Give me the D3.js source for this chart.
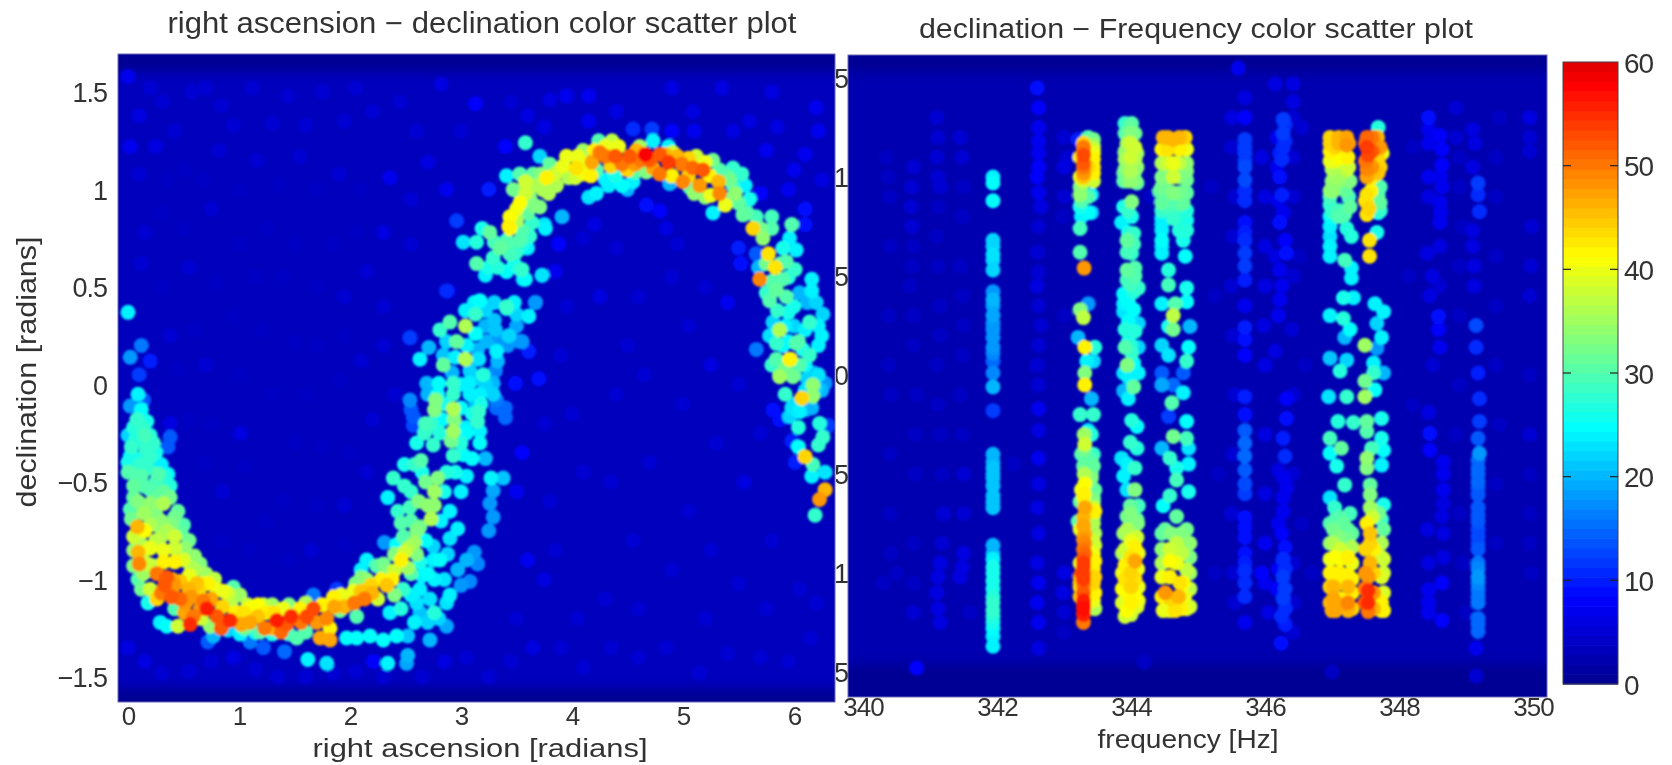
<!DOCTYPE html>
<html><head><meta charset="utf-8">
<script src="https://cdn.jsdelivr.net/npm/d3@7/dist/d3.min.js"></script>
<style>html,body{margin:0;padding:0;background:#fff;overflow:hidden}svg{display:block}text{font-family:"Liberation Sans",Arial,sans-serif;fill:#333}</style>
</head><body><svg id="c" width="1672" height="765"></svg>
<script>
const titleLeft="right ascension − declination color scatter plot";
const titleRight="declination − Frequency color scatter plot";
const xLabelLeft="right ascension [radians]";
const yLabelLeft="declination [radians]";
const xLabelRight="frequency [Hz]";
const raTicks=[0,1,2,3,4,5,6];
const decTicks=[1.5,1,0.5,0,-0.5,-1,-1.5];
const freqTicks=[340,342,344,346,348,350];
const barTicks=[0,10,20,30,40,50,60];
const jetStops=["#00008f","#0000ff","#00ffff","#ffff00","#ff0000","#800000"];
const jetDomain=[0,8.25,24.75,41.25,57.75,66];

// ra, dec, snr
const arcLow=[[.09,-.05,24],[.02,-.11,18],[.12,-.13,25],[.08,-.18,28],[.17,-.19,26],[.15,-.26,29],[0,-.26,22],[.23,-.30,28],[.38,-.27,14],[.36,-.32,14],[.03,-.32,28],[.02,-.37,25],[.20,-.37,28],[.11,-.41,28],[.30,-.41,24],[0,-.45,30],[.12,-.47,30],[.27,-.46,30],[.36,-.46,25],[.05,-.52,31],[.20,-.54,30],[.38,-.52,27],[.32,-.55,31],[.09,-.60,33],[.20,-.61,34],[.32,-.61,36],[.45,-.65,31],[.02,-.64,30],[.084,-.73,46],[.15,-.75,41],[.09,-.86,46],[.10,-.92,49],[.05,-.78,38],[.26,-.72,33],[.39,-.72,33],[.48,-.76,31],[.30,-.78,36],[.42,-.78,38],[.20,-.84,40],[.32,-.85,40],[.51,-.84,34],[.60,-.88,34],[.09,-1.0,30],[.23,-.93,34],[.32,-.91,42],[.42,-.91,42],[.65,-.92,33],[.26,-.97,50],[.35,-.99,52],[.33,-1.03,52],[.47,-1.01,45],[.62,-1.02,45],[.72,-1.02,42],[.78,-.998,37],[.86,-1.06,40],[.26,-1.10,44],[.39,-1.09,52],[.47,-1.10,51],[.57,-1.09,48],[.68,-1.11,50],[.29,-1.22,24],[.35,-1.24,25],[.45,-1.24,38],[.51,-1.17,47],[.59,-1.19,50],[.56,-1.23,55],[.71,-1.15,56],[.80,-1.19,52],[.84,-1.25,52],[.92,-1.21,55],[.74,-1.24,34],[.77,-1.29,20],[.72,-1.32,14],[1.01,-1.08,35],[.93,-1.12,36],[1.10,-1.15,41],[1.17,-1.13,41],[1.02,-1.23,47],[1.10,-1.22,47],[1.23,-1.25,50],[1.34,-1.21,56],[1.38,-1.27,51],[1.47,-1.19,55],[1.61,-1.19,53],[1.67,-1.15,53],[1.79,-1.20,49],[1.86,-1.14,47],[1.31,-1.17,43],[1.55,-1.15,42],[1.19,-1.27,30],[1.01,-1.28,24],[1.10,-1.32,16],[1.22,-1.35,14],[1.41,-1.37,15],[1.52,-1.30,30],[1.62,-1.41,24],[1.79,-1.43,23],[1.73,-1.30,47],[1.82,-1.31,47],[1.82,-1.25,42],[1.67,-1.08,16],[1.88,-1.05,12],[1.97,-1.10,38],[2.04,-1.12,50],[2.13,-1.10,50],[2.03,-1.06,40],[2.19,-1.03,44],[2.33,-1.03,45],[2.10,-.99,33],[2.24,-.93,30],[2.15,-.90,24],[2.33,-.955,33],[2.40,-.955,38],[2.46,-.90,42],[2.49,-.86,38],[2.58,-.81,35],[2.31,-.81,18],[2.48,-1.05,28],[2.55,-.97,30],[2.63,-.91,26],[2.70,-.97,25],[2.81,-.90,25],[2.97,-.95,20],[3.05,-.90,20],[3.12,-.86,18],[3.15,-.92,17],[3.00,-1.03,18],[3.08,-1.01,17],[2.75,-.83,22],[2.90,-.79,23],[2.97,-.74,24],[2.76,-1.0,24],[2.63,-1.05,24],[2.87,-1.12,23],[2.76,-1.17,27],[2.90,-1.08,24],[2.63,-1.17,21],[2.58,-1.22,24],[2.70,-1.22,22],[2.87,-1.24,19],[2.72,-1.31,20],[2.52,-1.29,21],[2.36,-1.17,24],[2.46,-1.15,27],[1.97,-1.30,25],[2.06,-1.30,25],[2.18,-1.29,25],[2.30,-1.31,25],[2.42,-1.29,25],[2.21,-1.42,8],[2.34,-1.43,24],[2.52,-1.39,20],[2.51,-1.43,19],[1.70,-1.22,48],[1.43,-1.23,52],[1.56,-1.22,50],[1.04,-1.17,43],[1.17,-1.19,45],[.90,-1.13,37],[1.91,-1.16,32],[2.06,-1.19,30],[2.25,-1.10,38],[1.24,-1.17,42],[1.40,-1.15,40],[1.92,-1.08,40],[2.40,-1.08,33],[2.52,-.94,35],[2.60,-.87,33],[.55,-.98,40],[.68,-1.02,40],[.40,-1.0,47],[.14,-.97,35],[.16,-.66,34],[.30,-.70,34],[.12,-.82,36],[.57,-.94,36],[1.0,-1.17,38],[1.30,-1.25,46]];
const arcLowDense=[[.05,-.22,27],[.13,-.22,28],[.07,-.28,27],[.2,-.26,27],[.07,-.38,26],[.16,-.33,28],[.25,-.35,26],[0,-.40,26],[.07,-.46,29],[.18,-.43,28],[.25,-.50,29],[.32,-.47,27],[.14,-.52,30],[.05,-.58,31],[.26,-.58,31],[.38,-.58,32],[.03,-.69,32],[.14,-.66,35],[.25,-.66,33],[.42,-.68,32],[.5,-.72,30],[.2,-.72,36],[.35,-.75,36],[.05,-.85,34],[.15,-.85,38],[.25,-.80,37],[.42,-.84,38],[.55,-.80,32],[.05,-.93,33],[.18,-.92,38],[.5,-.9,39],[.6,-.95,36],[.7,-.97,35],[.12,-1.05,32],[.2,-1.05,38],[.3,-1.07,50],[.42,-1.03,48],[.55,-1.05,46],[.64,-1.06,44],[.8,-1.05,40],[.9,-1.07,38],[.95,-1.04,30],[.18,-1.12,26],[.42,-1.15,30],[.52,-1.12,48],[.65,-1.15,48],[.75,-1.10,47],[.85,-1.14,44],[.97,-1.17,42],[.66,-1.2,38],[.9,-1.26,22],[1.05,-1.25,32],[1.15,-1.27,26],[1.3,-1.28,26],[1.45,-1.28,28],[1.6,-1.27,30],[1.08,-1.13,38],[1.22,-1.13,37],[1.3,-1.13,35],[1.45,-1.13,33],[1.6,-1.12,36],[1.75,-1.13,42],[1.85,-1.09,42],[1.95,-1.14,46],[2.1,-1.06,45],[2.2,-1.07,46],[2.28,-1.0,42],[2.38,-1.0,42],[2.05,-1.02,33],[2.15,-1.0,34],[2.3,-.92,32],[2.4,-.87,33],[2.52,-.84,36],[2.48,-.78,30],[2.6,-.75,33],[2.42,-.82,25],[2.1,-.95,24],[2.55,-.7,30],[2.43,-.65,28],[2.55,-.55,28],[2.62,-.6,33],[2.68,-.5,32],[2.7,-.62,34],[2.65,-.45,26],[2.85,-.55,26],[2.9,-.65,24],[2.82,-.7,24],[2.68,-.8,25],[2.75,-.9,24],[2.88,-.87,22],[2.65,-.98,24],[2.85,-1.0,23],[2.55,-1.08,24],[2.72,-1.1,23],[2.8,-1.2,22],[2.6,-1.12,23]];
const strandMid=[[2.79,-.48,33],[2.76,-.55,35],[2.76,-.62,34],[2.73,-.69,36],[2.63,-.73,32],[2.46,-.71,30],[2.54,-.63,29],[2.34,-.58,24],[2.39,-.48,28],[2.49,-.52,28],[2.49,-.41,26],[2.64,-.39,30],[2.58,-.41,28],[2.67,-.25,28],[2.76,-.13,33],[2.81,-.25,27],[2.94,-.18,33],[2.91,-.29,32],[3.15,-.19,28],[3.18,-.10,26],[3.05,-.25,25],[3.17,-.30,25],[2.93,-.365,28],[2.87,-.45,27],[3.05,-.47,24],[3.02,-.36,25],[2.75,-.31,28],[2.55,-.13,14],[2.57,-.21,13],[3.27,-.48,24],[3.38,-.48,21],[3.29,-.545,19],[3.26,-.61,18],[3.29,-.68,18],[3.25,-.75,18],[3.32,-.12,15],[3.40,-.17,15],[2.93,-.05,28],[2.79,-.05,25],[3.08,-.05,24],[3.29,-.05,22],[2.70,-.05,20],[3.43,.81,42],[3.19,.80,26],[3.26,.78,31],[3.02,.73,23],[3.14,.73,27],[3.35,.70,31],[3.53,.74,30],[3.62,.76,28],[3.76,.80,24],[3.59,.70,24],[3.44,.67,29],[3.14,.62,30],[3.29,.65,28],[3.22,.56,24],[3.41,.58,25],[3.56,.54,23],[3.55,.59,28],[3.73,.56,23],[2.89,.48,7],[3.17,.43,25],[3.67,.42,18],[3.41,.40,28],[3.04,.38,24],[3.13,.36,28],[3.61,.35,23],[3.50,.36,22],[2.90,.32,30],[2.81,.28,28],[3.04,.30,36],[3.13,.26,25],[3.31,.28,21],[2.54,.24,12],[2.96,.22,31],[2.87,.22,22],[3.23,.22,20],[3.44,.25,19],[3.53,.22,18],[2.71,.19,20],[3.32,.17,24],[3.61,.17,10],[2.63,.13,24],[3.04,.13,36],[3.16,.13,23],[2.84,.10,31],[2.84,.15,21],[3.08,.07,22],[3.20,.05,27],[3.31,.07,17],[2.92,.06,20],[3.70,.03,9],[3.49,.006,9],[2.80,.006,25],[2.69,.006,20],[2.93,.006,28],[3.07,.006,24],[3.29,.006,20],[2.54,-.08,17],[2.77,-.08,33],[3.17,-.05,24],[3.13,-.09,21],[3.32,-.08,16],[3.40,-.12,15],[2.93,-.125,36],[3.16,-.14,28],[2.57,-.165,14],[2.68,-.20,29],[2.83,-.18,25],[3.04,-.22,24],[3.17,-.24,24],[2.93,-.24,35],[2.68,-.24,28]];
const strandMidDense=[[2.6,-.3,26],[2.73,-.2,28],[2.85,-.1,26],[3.0,-.12,25],[3.1,-.15,26],[3.0,-.3,27],[3.1,-.38,25],[2.95,-.45,26],[3.0,-.55,24],[3.22,-.38,20],[3.0,0,24],[3.1,.02,22],[3.22,0,22],[3.15,.18,20],[3.05,.2,24],[3.22,.3,20],[3.35,.22,18],[3.3,.33,21],[3.22,.38,22],[3.12,.42,24],[3.5,.3,19],[3.42,.2,18],[3.48,.42,24],[3.3,.42,22],[3.25,.6,26],[3.33,.6,27],[3.48,.62,26],[3.4,.7,29],[3.3,.73,29],[3.42,.73,30],[3.5,.68,28],[3.33,.12,20],[2.95,.14,24]];
const arcHigh=[[3.58,1.24,28],[3.41,1.07,24],[3.71,1.17,22],[3.58,1.04,38],[3.77,1.06,42],[3.53,1.08,30],[3.65,1.08,31],[3.80,1.13,31],[3.95,1.17,40],[4.04,1.11,43],[4.03,1.06,38],[4.10,1.20,35],[4.24,1.25,30],[4.36,1.25,37],[4.18,1.14,47],[4.25,1.19,50],[4.30,1.17,50],[4.39,1.17,52],[4.45,1.13,50],[4.52,1.17,52],[4.66,1.18,58],[4.79,1.18,52],[4.87,1.14,54],[4.99,1.13,50],[5.09,1.11,51],[5.18,1.10,52],[4.61,1.22,35],[4.73,1.25,24],[4.87,1.22,24],[4.91,1.19,38],[5.12,1.17,38],[5.27,1.15,32],[5.45,1.11,28],[5.53,1.08,28],[5.56,1.02,24],[4.73,1.11,47],[4.79,1.08,50],[4.90,1.07,42],[5.00,1.04,49],[5.15,1.02,48],[5.32,1.04,46],[5.33,.98,49],[5.42,1.05,32],[5.47,.98,34],[5.38,.92,40],[5.27,.88,24],[4.15,.96,23],[4.22,.98,24],[4.33,1.02,24],[4.45,1.02,25],[4.55,1.04,24],[4.39,1.07,26],[4.57,1.09,30],[4.67,1.09,33],[4.88,1.03,20],[5.06,1.01,30],[3.74,.998,36],[3.79,.98,36],[3.62,.96,33],[3.53,.98,31],[3.71,.91,33],[3.50,.90,40],[3.44,.86,41],[3.44,.80,41],[3.53,.93,41],[3.55,.79,30],[3.64,.83,28],[3.75,.82,23],[3.91,.86,20],[3.56,.72,26],[3.41,.74,27],[3.46,.67,27],[3.60,.70,24],[3.41,.58,24],[3.53,.59,27],[3.58,.54,25],[3.73,.56,20],[3.67,.42,17],[3.41,.39,27],[3.61,.35,24],[3.43,.25,22],[3.55,.22,18],[3.61,.17,9],[4.67,.92,9],[4.79,.89,8],[3.95,1.48,7],[4.15,1.48,7],[3.80,1.46,6],[5.09,1.40,6],[6.10,.90,9],[6.10,.82,9],[3.88,1.10,34],[3.68,1.02,36],[3.86,1.02,36],[5.24,1.07,42],[4.10,1.14,40],[4.57,1.13,48],[4.62,1.15,50],[5.05,1.07,44]];
const arcHighDense=[[3.47,1.0,32],[3.6,.88,31],[3.5,.84,36],[3.58,.98,38],[3.66,.92,33],[3.72,1.08,33],[3.85,1.08,38],[3.92,1.12,40],[3.97,1.06,36],[4.1,1.08,40],[4.17,1.07,42],[4.2,1.2,42],[4.05,1.17,40],[4.3,1.22,40],[4.42,1.22,40],[4.22,1.1,30],[4.35,1.12,44],[4.5,1.1,44],[4.58,1.2,46],[4.7,1.15,52],[4.84,1.18,46],[4.95,1.17,46],[5.05,1.16,44],[5.2,1.14,40],[5.33,1.1,30],[5.4,1.07,30],[5.25,.97,40],[5.45,1.02,28],[5.42,.95,30],[5.5,.93,31],[5.58,.88,30],[5.6,.95,26],[5.2,.96,34],[5.1,.98,34],[4.3,1.05,24],[4.5,1.0,20]];
const strandEnd=[[5.54,.87,31],[5.66,.86,29],[5.80,.86,29],[5.98,.82,30],[5.63,.80,44],[5.72,.75,34],[5.96,.75,24],[5.90,.70,26],[6.02,.69,24],[5.77,.67,43],[5.83,.60,43],[5.68,.60,20],[5.66,.67,14],[5.69,.54,49],[5.93,.63,30],[6.01,.59,28],[5.90,.54,30],[5.84,.485,31],[5.93,.45,30],[5.75,.47,28],[6.00,.40,26],[6.16,.54,24],[6.16,.48,24],[6.20,.42,22],[6.26,.36,22],[6.14,.32,28],[6.00,.30,22],[5.81,.32,22],[5.87,.28,36],[5.78,.25,23],[6.04,.22,30],[5.90,.20,25],[6.25,.25,24],[6.22,.20,24],[5.66,.18,16],[6.14,.15,28],[5.97,.13,38],[5.84,.13,30],[5.87,.05,30],[6.00,.05,28],[6.22,.05,23],[5.84,.21,28],[6.02,.21,30],[5.96,.13,42],[5.87,.04,35],[5.99,.04,32],[6.17,.06,20],[6.28,.006,18],[6.17,-.003,34],[5.92,-.05,28],[6.07,-.07,44],[6.17,-.06,34],[5.98,-.12,23],[6.16,-.12,20],[5.81,-.13,9],[5.87,-.18,9],[5.96,-.165,22],[6.04,-.22,27],[6.23,-.20,27],[6.31,-.21,12],[6.26,-.27,28],[6.22,-.31,28],[6.04,-.32,25],[5.98,-.29,10],[6.10,-.37,44],[6.01,-.40,10],[6.17,-.41,29],[6.16,-.47,24],[6.28,-.45,23],[6.28,-.54,46],[6.23,-.59,48],[6.19,-.67,28]];
const strandEndDense=[[5.7,.8,32],[5.8,.8,30],[5.75,.62,32],[5.8,.53,30],[5.88,.62,30],[5.95,.55,27],[5.78,.43,30],[5.85,.38,28],[5.95,.37,26],[6.05,.47,20],[6.12,.42,20],[6.22,.3,24],[6.1,.28,24],[5.92,.3,24],[5.95,.22,25],[6.08,.18,26],[6.1,.1,25],[6.12,.03,22],[5.8,.1,28],[5.92,.08,32],[6.05,.1,30],[6.1,-.03,23],[6.25,-.03,20],[6,-.1,22],[6.05,-.14,24],[6.1,-.13,20],[6.2,-.02,22]];
const haloLeft=[[0,1.58,7],[.10,1.38,6],[.31,1.45,5],[.57,1.50,5],[.84,1.43,5],[1.12,1.52,5],[1.44,1.48,5],[1.75,1.50,5],[2.05,1.52,5],[2.45,1.45,5],[2.82,1.54,6],[3.13,1.44,8],[.02,1.22,7],[.25,1.22,6],[.51,1.10,4],[.82,1.20,5],[1.16,1.15,5],[1.55,1.17,5],[1.90,1.08,5],[2.36,1.06,7],[2.70,1.14,6],[2.87,1.00,7],[2.96,.84,12],[2.87,.48,11],[2.54,.24,12],[2.30,.78,6],[1.85,.72,4],[1.25,.80,4],[.75,.90,5],[.30,.88,4],[.12,.62,5],[.55,.60,5],[1.40,.55,4],[1.95,.45,5],[2.30,.40,5],[.95,.35,4],[.38,.25,5],[.12,.20,16],[.02,.14,18],[.20,.12,10],[0,.37,24],[1.70,.20,4],[2.10,.12,5],[.70,.10,5],[1.30,-.05,4],[.75,-.20,4],[1.01,-.25,6],[1.75,-.32,4],[2.20,-.18,5],[.85,-.55,5],[1.40,-.60,4],[1.95,-.62,5],[1.10,-.85,4],[1.65,-.85,5],[0,-1.35,6],[.15,-1.42,6],[.55,-1.47,5],[.95,-1.40,6],[1.35,-1.50,5],[1.85,-1.48,5],[2.30,-1.50,5],[2.85,-1.42,6],[3.25,-1.50,5],[3.65,-1.35,6],[4.10,-1.45,5],[4.60,-1.40,5],[5.15,-1.48,5],[5.70,-1.40,5],[6.15,-1.30,5],[3.75,-1.00,6],[4.30,-1.10,5],[4.90,-.95,5],[5.50,-1.02,5],[6.05,-1.05,5],[3.80,-.60,5],[4.35,-.50,5],[5.05,-.65,5],[5.55,-.50,6],[4.0,-.15,5],[4.65,.05,5],[5.25,.10,6],[4.25,.45,6],[4.90,.55,5],[5.40,.42,7],[4.10,.75,5],[4.85,.80,6],[3.45,1.45,5],[4.40,1.40,6],[4.90,1.52,6],[5.35,1.52,6],[5.80,1.50,6],[6.20,1.42,7],[6.22,1.30,7],[5.75,1.20,7],[6.0,1.10,7],[5.85,1.32,6],[5.45,1.30,6],[4.55,1.31,11],[4.72,1.31,12],[4.90,1.30,8],[3.40,1.22,8],[3.25,1.00,10],[3.88,.72,8],[3.85,.58,7],[.14,-.08,14],[.10,.05,12],[.38,-.20,6],[3.55,-.35,8],[3.50,-.55,7],[3.60,-.90,7],[5.50,.70,10],[5.52,.62,9]];
const hazeLeft=[[.2,1.52,5],[.42,1.3,5],[.7,1.52,5],[.95,1.33,5],[1.3,1.34,5],[1.6,1.33,5],[1.95,1.35,5],[2.2,1.4,5],[2.6,1.3,5],[3.0,1.3,5],[.1,1.08,5],[.35,1.05,4],[.68,1.05,4],[1.0,1.0,4],[1.35,1.02,4],[1.7,1.0,4],[2.1,1.0,4],[2.55,.95,5],[.15,.78,5],[.5,.8,4],[1.0,.72,4],[1.5,.72,4],[2.05,.78,4],[2.55,.72,5],[.3,.5,4],[.8,.52,4],[1.15,.55,4],[1.7,.5,4],[2.15,.58,5],[.6,.28,4],[1.2,.28,4],[1.5,.22,4],[1.95,.25,4],[2.3,.2,5],[.45,.08,4],[1.0,.05,4],[1.6,-.05,4],[1.9,.02,4],[2.4,-.05,5],[.55,-.18,4],[1.05,-.42,4],[1.5,-.3,4],[2.0,-.35,4],[.7,-.4,4],[1.25,-.7,4],[1.7,-.62,4],[2.15,-.45,5],[.85,-.8,4],[1.45,-.9,4],[1.95,-.82,4],[.3,-1.48,5],[.75,-1.42,5],[1.15,-1.46,5],[1.6,-1.5,5],[2.05,-1.47,5],[2.65,-1.5,5],[3.05,-1.4,5],[3.45,-1.42,5],[3.9,-1.35,5],[4.35,-1.35,5],[4.85,-1.35,5],[5.4,-1.38,5],[5.95,-1.42,5],[3.5,-1.2,5],[4.05,-1.2,5],[4.6,-1.15,5],[5.2,-1.2,5],[5.75,-1.15,5],[6.2,-1.12,5],[3.85,-.85,5],[4.55,-.8,5],[5.25,-.85,5],[5.8,-.8,5],[4.1,-.45,5],[4.7,-.4,5],[5.3,-.3,5],[5.7,-.25,5],[3.75,-.2,5],[4.4,-.05,5],[5.0,-.1,5],[5.5,.0,5],[3.9,.15,5],[4.5,.2,5],[5.05,.3,5],[3.95,.4,5],[4.6,.45,5],[5.2,.5,5],[4.4,.7,5],[4.95,.72,5],[4.2,.82,6],[3.75,1.32,6],[4.15,1.35,7],[3.6,1.38,6],[5.1,1.3,7],[5.6,1.35,6],[6.1,1.18,7],[6.25,1.05,6],[5.95,1.0,7],[5.7,.98,8]];

// frequency, dec, snr
const col342=[[341.94,1.0,24],[341.94,.97,25],[341.94,.88,25],[341.94,.68,22],[341.94,.61,23],[341.94,.58,22],[341.94,.53,22],[341.94,.42,18],[341.94,.38,20],[341.94,.35,19],[341.94,.30,19],[341.94,.23,18],[341.94,.19,18],[341.94,.14,18],[341.94,.07,15],[341.94,.01,17],[341.94,-.06,20],[341.94,-.18,12],[341.94,-.40,20],[341.94,-.47,21],[341.94,-.52,21],[341.94,-.56,21],[341.94,-.61,21],[341.94,-.67,21],[341.94,-.86,20],[341.94,-.90,20],[341.94,-.97,26],[341.94,-1.04,26],[341.94,-1.12,27],[341.94,-1.19,28],[341.94,-1.25,26],[341.94,-1.32,24],[341.94,-1.37,24],[341.94,-.93,24],[341.94,-1.0,26],[341.94,-1.08,26],[341.94,-1.15,28],[341.94,-1.22,27],[341.94,-1.28,25],[341.94,.65,22],[341.94,.11,17],[341.94,.26,18],[341.94,-.44,20],[341.94,-.5,21],[341.94,-.64,21]];
const col343=[[343.21,1.19,10],[343.29,1.15,50],[343.29,1.11,53],[343.29,1.07,52],[343.29,1.02,48],[343.44,1.19,32],[343.44,1.14,38],[343.44,1.09,42],[343.44,1.02,42],[343.24,.95,33],[343.24,.91,34],[343.24,.85,26],[343.24,.74,29],[343.24,.62,30],[343.3,.54,48],[343.41,.91,24],[343.41,.82,22],[343.36,.36,18],[343.24,.33,33],[343.29,.29,37],[343.21,.19,20],[343.31,.14,42],[343.46,.14,27],[343.34,.07,24],[343.44,.07,22],[343.31,.01,33],[343.31,-.05,42],[343.41,-.12,20],[343.24,-.20,28],[343.44,-.20,28],[343.36,-.28,24],[343.31,-.35,38],[343.26,-.40,30],[343.44,-.40,28],[343.29,-.46,31],[343.44,-.46,31],[343.31,-.55,41],[343.26,-.58,40],[343.46,-.58,31],[343.31,-.67,47],[343.46,-.69,42],[343.21,-.74,30],[343.44,-.72,33],[343.31,-.80,47],[343.46,-.80,36],[343.31,-.85,49],[343.31,-.90,51],[343.29,-.95,54],[343.26,-1.0,53],[343.29,-1.03,54],[343.24,-1.07,43],[343.46,-.94,42],[343.46,-1.02,44],[343.46,-1.10,42],[343.29,-1.14,56],[343.29,-1.18,57],[343.46,-1.18,36],[343.29,-1.25,50],[343.24,-.64,31],[343.44,-.64,33],[343.46,-.86,38],[343.24,-1.12,45]];
const col343Dense=[[343.29,-.62,40],[343.29,-.72,46],[343.29,-.76,47],[343.29,-.83,48],[343.29,-.88,50],[343.29,-.93,52],[343.29,-.97,54],[343.29,-1.0,54],[343.29,-1.06,50],[343.29,-1.1,52],[343.29,-1.16,56],[343.29,-1.21,56],[343.44,-.62,32],[343.44,-.67,38],[343.44,-.75,36],[343.44,-.84,38],[343.44,-.9,40],[343.44,-.98,42],[343.44,-1.05,44],[343.44,-1.14,40],[343.24,-.78,40],[343.24,-.95,40],[343.24,-1.02,46],[343.24,-1.05,44],[343.29,1.17,44],[343.29,1.13,50],[343.29,1.05,50],[343.29,1.0,45],[343.29,.98,38],[343.24,1.1,42],[343.24,1.0,40],[343.44,1.16,35],[343.44,1.12,40],[343.44,1.05,42],[343.44,.98,38],[343.36,1.2,30],[343.36,1.05,44],[343.26,.96,33],[343.26,.88,30],[343.26,.80,24],[343.36,.9,30],[343.36,.82,25],[343.3,-.3,35],[343.3,-.38,32],[343.3,-.5,36],[343.3,-.6,42],[343.41,-.3,27],[343.41,-.43,30],[343.41,-.5,30],[343.41,-.52,33]];
const col344=[[343.91,1.27,28],[344.01,1.27,30],[343.99,1.22,33],[343.94,1.17,35],[344.06,1.15,38],[343.91,1.09,35],[344.06,1.09,36],[343.91,1.04,33],[344.06,.985,33],[343.89,.98,30],[344.01,.875,33],[343.89,.85,26],[344.01,.80,26],[343.86,.77,24],[343.94,.68,31],[344.04,.715,28],[344.01,.615,28],[344.06,.54,30],[343.94,.53,31],[343.99,.46,29],[344.11,.44,28],[343.89,.41,25],[343.89,.36,24],[343.89,.32,23],[344.04,.33,25],[344.11,.26,22],[343.91,.23,27],[343.91,.14,30],[344.11,.14,22],[344.01,.11,28],[343.94,.05,33],[344.11,.01,24],[343.89,.01,23],[344.04,-.06,31],[343.89,-.08,20],[343.96,-.12,24],[344.01,-.23,27],[344.09,-.26,25],[343.99,-.34,28],[344.09,-.37,27],[343.86,-.42,23],[344.06,-.47,28],[343.94,-.45,24],[343.89,-.51,24],[344.06,-.58,33],[343.94,-.58,23],[343.99,-.66,31],[344.11,-.66,29],[343.94,-.715,32],[344.09,-.73,31],[343.94,-.78,36],[344.09,-.82,38],[344.06,-.87,42],[343.91,-.88,38],[344.06,-.94,47],[343.91,-.96,42],[343.91,-1.03,43],[344.06,-1.03,43],[343.94,-1.10,41],[344.06,-1.12,41],[343.94,-1.19,41],[344.09,-1.17,39],[343.91,-1.22,38],[343.91,1.12,33],[344.06,1.03,33],[343.94,.98,32]];
const col344Dense=[[343.99,1.25,31],[343.91,1.22,30],[344.06,1.22,32],[343.99,1.17,38],[343.91,1.13,34],[344.09,1.12,35],[343.99,1.1,38],[344.09,1.05,34],[343.99,1.03,36],[343.89,1.02,31],[343.99,.98,34],[344.09,.97,31],[343.96,.83,28],[343.96,.72,26],[343.94,.62,29],[344.04,.66,29],[344.06,.5,30],[343.94,.48,29],[344.04,.42,27],[343.96,.37,25],[343.96,.27,25],[344.06,.22,27],[343.96,.17,26],[344.0,.15,27],[344.04,.06,25],[343.96,-.01,24],[343.99,-.7,33],[344.1,-.75,33],[343.89,-.8,35],[344.0,-.84,40],[343.87,-.9,36],[344.11,-.9,40],[344.0,-.92,43],[343.87,-1.0,40],[344.0,-1.0,44],[344.1,-.98,40],[343.87,-1.08,41],[344.0,-1.07,44],[344.11,-1.07,40],[344.0,-1.15,42],[343.87,-1.15,39],[344.11,-1.14,40],[344.0,-1.21,38]];
const col345=[[344.48,1.20,46],[344.81,1.20,44],[344.63,1.19,46],[344.46,1.14,42],[344.83,1.14,40],[344.63,1.07,40],[344.46,1.0,33],[344.63,1.0,38],[344.83,.985,32],[344.43,.93,31],[344.73,.92,32],[344.46,.87,31],[344.78,.87,31],[344.46,.79,24],[344.63,.79,28],[344.83,.78,26],[344.46,.73,24],[344.46,.68,25],[344.78,.68,26],[344.46,.615,24],[344.81,.60,25],[344.56,.53,27],[344.56,.455,29],[344.83,.44,26],[344.46,.36,24],[344.66,.36,30],[344.83,.37,25],[344.63,.30,37],[344.56,.245,26],[344.63,.23,32],[344.88,.245,20],[344.46,.15,22],[344.56,.10,23],[344.86,.14,25],[344.83,.07,28],[344.46,.01,14],[344.78,.01,14],[344.46,-.05,19],[344.63,-.05,15],[344.78,-.09,24],[344.61,-.14,30],[344.56,-.21,12],[344.83,-.235,25],[344.63,-.31,32],[344.83,-.32,29],[344.46,-.37,20],[344.86,-.37,23],[344.58,-.42,28],[344.86,-.45,24],[344.68,-.47,26],[344.68,-.53,29],[344.86,-.59,26],[344.58,-.61,28],[344.48,-.66,25],[344.68,-.715,31],[344.51,-.78,31],[344.83,-.78,32],[344.68,-.85,37],[344.46,-.88,34],[344.88,-.92,33],[344.58,-.94,41],[344.83,-.985,37],[344.46,-1.02,40],[344.73,-1.05,43],[344.51,-1.10,48],[344.71,-1.12,46],[344.48,-1.19,40],[344.83,-1.18,39],[344.66,-1.19,43],[344.46,1.07,36],[344.83,1.07,34],[344.46,.95,32],[344.63,.92,33],[344.83,.92,31]];
const col345Dense=[[344.55,1.2,46],[344.72,1.2,46],[344.55,1.14,43],[344.72,1.14,42],[344.55,1.07,38],[344.72,1.07,37],[344.55,1.0,33],[344.72,1.0,33],[344.83,1.03,33],[344.55,.93,31],[344.63,.87,30],[344.72,.86,30],[344.55,.85,29],[344.46,.83,28],[344.83,.83,27],[344.7,.8,27],[344.46,.76,23],[344.83,.73,27],[344.72,.73,27],[344.46,.65,23],[344.46,-.8,31],[344.6,-.8,33],[344.75,-.8,33],[344.88,-.85,34],[344.58,-.88,38],[344.76,-.9,37],[344.46,-.95,36],[344.68,-.95,40],[344.88,-1.0,35],[344.58,-1.02,42],[344.78,-1.05,41],[344.88,-1.08,37],[344.46,-1.12,42],[344.6,-1.13,44],[344.8,-1.12,40],[344.88,-1.17,38],[344.58,-1.19,40],[344.75,-1.18,42]];
const col345b=[[345.7,1.19,12],[345.7,1.12,12],[345.7,1.05,13],[345.7,.985,13],[345.7,.88,11],[345.7,.77,9],[345.7,.68,11],[345.7,.615,12],[345.7,.55,12],[345.7,.48,10],[345.7,.24,10],[345.7,.18,9],[345.7,.10,8],[345.7,-.11,10],[345.7,-.28,14],[345.7,-.345,15],[345.7,-.41,15],[345.7,-.48,14],[345.7,-.55,13],[345.7,-.60,12],[345.7,-.77,9],[345.7,-.82,9],[345.7,-.90,9],[345.7,-.99,11],[345.7,-1.12,11],[345.7,1.15,12],[345.7,1.08,12],[345.7,.93,11],[345.7,.72,10],[345.7,-.95,10],[345.7,-1.05,11],[345.7,-.72,9]];
const col346=[[346.15,1.47,6],[346.42,1.47,6],[346.27,1.29,12],[346.27,1.22,12],[346.27,1.15,11],[346.25,1.09,11],[346.22,1.0,9],[346.25,.91,10],[346.27,.82,7],[346.22,.77,9],[346.3,.68,8],[346.32,.615,9],[346.22,.53,7],[346.25,.45,7],[346.22,.38,7],[346.2,.30,7],[346.4,.23,5],[346.32,-.12,8],[346.32,-.22,9],[346.27,-.32,10],[346.3,-.41,11],[346.32,-.57,7],[346.27,-.69,7],[346.25,-.80,8],[346.27,-.93,11],[346.27,-1.02,12],[346.27,-1.13,12],[346.25,-1.22,11],[346.3,-1.26,10],[346.24,-1.355,9],[346.42,1.3,5],[346.42,1.1,5],[346.42,.9,5],[346.42,-.5,5],[346.42,-.95,5],[346.42,-1.15,5],[346.42,-1.3,5],[346.18,1.2,7],[346.18,1.05,7],[346.2,.88,7],[346.15,.6,6],[346.15,.12,6],[346.27,-.62,7],[346.2,-.48,6],[346.2,-.75,7],[346.2,-.98,8],[346.18,-1.08,8],[346.3,-.87,9],[346.3,-.98,11],[346.3,-1.08,12],[346.3,-1.18,11],[346.3,1.26,11],[346.3,1.18,11],[346.22,1.12,10],[346.28,-.52,7],[346.42,.5,5],[346.42,-.1,5],[346.42,1.38,6]];
const col347=[[346.97,1.20,44],[347.22,1.20,47],[347.22,1.16,48],[346.97,1.13,42],[347.24,1.10,42],[347.0,1.04,36],[347.22,1.035,37],[347.0,.98,34],[347.22,.985,33],[346.97,.93,34],[346.97,.90,29],[347.0,.825,28],[347.27,.85,31],[347.19,.81,30],[346.97,.75,24],[347.22,.74,27],[347.29,.70,27],[346.97,.65,24],[346.97,.60,24],[347.19,.58,29],[347.29,.54,24],[347.29,.49,24],[347.17,.39,26],[347.32,.39,24],[346.97,.30,24],[347.17,.285,27],[347.27,.23,25],[347.19,.19,20],[346.97,.085,21],[347.22,.075,22],[347.12,.02,27],[346.95,-.11,23],[347.22,-.11,28],[347.09,-.235,27],[347.32,-.24,28],[346.97,-.32,29],[347.14,-.37,31],[346.97,-.395,25],[347.07,-.46,26],[347.19,-.555,28],[346.97,-.62,23],[347.04,-.67,28],[347.27,-.70,29],[347.02,-.78,32],[347.24,-.78,31],[347.02,-.85,36],[347.24,-.83,32],[347.04,-.92,41],[347.24,-.92,42],[347.02,-1.0,42],[347.24,-1.01,42],[347.24,-1.07,46],[347.02,-1.13,47],[347.24,-1.15,49],[347.0,-1.19,46],[347.24,-1.19,46],[347.12,-1.0,42],[347.12,-.88,38],[347.12,-.72,30],[347.1,1.2,46],[347.1,1.1,41],[347.1,.98,34],[347.1,.8,30]];
const col347Dense=[[346.97,1.17,44],[347.1,1.17,46],[347.25,1.17,47],[347.05,1.15,44],[346.97,1.08,40],[347.05,1.08,40],[347.16,1.1,41],[347.25,1.05,38],[347.05,1.0,35],[347.16,1.02,35],[347.27,.98,33],[347.02,.93,34],[347.2,.93,31],[347.25,.9,29],[346.97,.86,28],[347.1,.83,29],[346.97,.8,25],[346.97,.7,23],[346.97,-.75,30],[347.05,-.73,30],[347.17,-.75,31],[347.3,-.8,31],[346.97,-.85,34],[347.1,-.82,33],[347.3,-.87,36],[346.97,-.93,40],[347.12,-.93,41],[347.3,-.95,40],[346.97,-1.0,42],[347.3,-1.03,42],[347.12,-1.05,42],[346.97,-1.07,44],[347.02,-1.07,46],[347.12,-1.13,42],[347.3,-1.1,42],[346.97,-1.15,46],[347.05,-1.19,46],[347.3,-1.18,44],[347.18,-1.16,47],[347.02,-1.19,47]];
const col347b=[[347.69,1.25,27],[347.52,1.20,51],[347.52,1.15,54],[347.54,1.11,53],[347.72,1.15,48],[347.52,1.04,49],[347.69,1.09,44],[347.69,1.02,45],[347.64,1.0,26],[347.52,.91,43],[347.52,.87,43],[347.52,.81,43],[347.69,.91,30],[347.72,.87,31],[347.69,.82,25],[347.67,.72,26],[347.56,.68,43],[347.56,.60,43],[347.64,.36,24],[347.77,.32,24],[347.67,.26,22],[347.74,.19,24],[347.49,.15,35],[347.67,.135,18],[347.62,.06,24],[347.62,.01,28],[347.77,.01,20],[347.49,-.03,32],[347.64,-.075,25],[347.49,-.11,35],[347.74,-.22,26],[347.52,-.235,31],[347.52,-.285,30],[347.74,-.32,26],[347.59,-.37,29],[347.77,-.38,25],[347.52,-.42,34],[347.74,-.455,24],[347.52,-.47,33],[347.57,-.555,31],[347.57,-.605,33],[347.77,-.655,26],[347.57,-.67,35],[347.74,-.73,28],[347.57,-.80,45],[347.57,-.85,44],[347.74,-.85,36],[347.74,-.92,38],[347.57,-.95,46],[347.54,-1.02,48],[347.74,-1.02,39],[347.54,-1.09,55],[347.54,-1.15,55],[347.74,-1.15,42],[347.54,-1.195,50],[347.74,-1.19,42],[347.52,1.0,47],[347.72,.95,30]];
const col347bDense=[[347.5,1.17,51],[347.6,1.2,50],[347.6,1.13,52],[347.68,1.2,46],[347.75,1.12,40],[347.5,1.08,50],[347.6,1.05,48],[347.72,1.05,44],[347.6,1.0,42],[347.5,.88,42],[347.55,.84,44],[347.58,.93,42],[347.72,.83,28],[347.52,-.75,42],[347.6,-.72,38],[347.7,-.7,32],[347.77,-.78,31],[347.5,-.88,44],[347.62,-.88,42],[347.77,-.93,38],[347.5,-1.0,48],[347.62,-1.0,44],[347.77,-1.0,38],[347.49,-1.08,50],[347.62,-1.1,48],[347.77,-1.1,39],[347.62,-1.18,46],[347.49,-1.15,52],[347.77,-1.19,41]];
const col348=[[348.44,1.30,9],[348.61,1.21,8],[348.44,1.17,7],[348.64,1.14,8],[348.64,1.06,8],[348.44,1.0,7],[348.64,.95,7],[348.61,.87,7],[348.61,.77,7],[348.61,.65,6],[348.42,.615,6],[348.5,.50,6],[348.59,.295,9],[348.59,.23,8],[348.61,.14,7],[348.44,-.19,6],[348.46,-.295,9],[348.46,-.38,8],[348.66,-.44,7],[348.66,-.58,7],[348.64,-.715,6],[348.42,-.78,6],[348.66,-.92,6],[348.64,-1.05,8],[348.44,-1.085,7],[348.44,-1.20,7],[348.64,-1.24,8],[348.44,1.24,7],[348.62,1.0,7],[348.62,.82,7],[348.44,.9,6],[348.46,.4,6],[348.66,-.5,7],[348.66,-.8,6],[348.44,-.95,6],[348.44,-1.15,7],[348.66,-.65,6],[348.6,.45,5],[348.5,.05,5]];
const col349=[[349.1,1.24,6],[349.13,1.17,6],[349.18,.97,12],[349.18,.91,11],[349.2,.825,11],[349.1,.73,6],[349.1,.65,6],[349.15,.25,13],[349.15,.14,11],[349.18,.01,10],[349.2,-.12,11],[349.2,-.235,12],[349.18,-.32,14],[349.2,-.395,18],[349.18,-.47,15],[349.18,-.54,15],[349.18,-.605,14],[349.18,-.67,14],[349.18,-.74,14],[349.18,-.815,13],[349.18,-.88,14],[349.18,-.95,16],[349.18,-1.02,18],[349.18,-1.085,16],[349.18,-1.15,16],[349.18,-1.23,15],[349.18,-1.295,15],[349.15,-1.38,7],[349.18,-.43,15],[349.18,-.5,15],[349.18,-.57,14],[349.18,-.71,14],[349.18,-.78,13],[349.18,-.85,13],[349.18,-.98,17],[349.18,-1.05,17],[349.18,-1.12,16],[349.18,-1.26,15],[349.1,1.05,6],[349.12,.55,6],[349.12,.45,6]];
const faintRight=[[340.35,1.1,4],[340.4,.9,4],[340.38,.3,4],[340.42,-.1,4],[340.4,-.7,4],[340.3,-1.05,4],[340.5,-1.0,4],[340.75,1.05,5],[340.72,.85,5],[340.75,.65,4],[340.7,.45,4],[340.75,.15,4],[340.8,-.1,4],[340.78,-.5,4],[340.75,-1.2,5],[340.8,-1.48,8],[341.1,1.3,5],[341.1,1.1,5],[341.15,.95,5],[341.1,.7,4],[341.15,.35,4],[341.1,.05,4],[341.15,-.3,4],[341.2,-.7,5],[341.15,-.95,6],[341.1,-1.1,6],[341.15,-1.25,6],[341.45,1.2,5],[341.5,.95,4],[341.45,.55,4],[341.5,.25,4],[341.45,-.1,4],[341.5,-.5,5],[341.5,-.9,6],[341.45,-1.02,6],[341.6,-1.2,4],[342.25,-.45,4],[342.6,1.45,9],[342.62,1.25,7],[342.62,1.12,7],[342.6,1.0,8],[342.65,.85,6],[342.6,.62,5],[342.6,.45,6],[342.65,.25,5],[342.6,.05,5],[342.62,-.17,7],[342.62,-.42,7],[342.6,-.67,6],[342.6,-.95,6],[342.6,-1.15,7],[342.62,-1.38,6],[343.05,1.1,5],[342.98,.8,4],[342.98,-1.1,6],[343.0,-1.3,4],[343.0,.3,4],[344.2,-1.45,4],[344.3,.9,4],[345.2,.95,4],[345.25,.4,4],[345.3,-.5,4],[345.25,-1.0,4],[345.5,1.3,6],[345.55,.9,5],[345.5,.45,5],[345.55,-.1,5],[345.5,-.7,5],[345.55,-1.15,5],[345.6,1.55,7],[346.55,1.25,5],[346.5,.6,4],[346.6,.05,4],[346.55,-.75,4],[346.7,-1.0,4],[348.2,1.15,4],[348.15,.5,4],[348.2,-.15,4],[348.85,1.35,5],[348.9,1.1,4],[348.95,.75,4],[348.9,.3,4],[348.85,-.3,4],[348.95,-.95,4],[349.0,-1.2,4],[349.5,1.3,4],[349.45,.9,4],[349.45,.35,4],[349.5,-.25,4],[349.45,-.85,4],[349.95,1.3,6],[349.95,1.13,5],[349.98,.75,5],[349.95,.4,5],[349.95,-.3,5],[349.95,-.7,4],[349.98,-1.0,4],[349.15,-1.52,5],[347.0,-1.5,4],[347.2,.85,4],[345.95,1.1,6],[346.0,.65,6],[345.98,.25,6],[346.0,-.3,6],[346.0,-.85,7],[346.05,-1.2,6],[345.95,-1.0,8]];
const streakRight=[[340.38,1.0,4],[340.4,.65,4],[340.38,.05,4],[340.4,-.4,4],[340.42,-.9,4],[340.73,.95,5],[340.73,.75,5],[340.73,.55,4],[340.75,.3,4],[340.78,-.3,4],[340.75,-.85,4],[340.75,-1.05,4],[341.12,1.2,5],[341.12,1.0,5],[341.12,.85,4],[341.12,.55,4],[341.15,.2,4],[341.12,-.15,4],[341.18,-.5,4],[341.18,-.85,5],[341.12,-1.02,6],[341.12,-1.18,6],[341.48,1.1,5],[341.48,.8,4],[341.48,.4,4],[341.48,.1,4],[341.48,-.3,4],[341.5,-.7,5],[341.48,-.97,6],[342.62,1.35,8],[342.62,1.18,7],[342.62,1.05,8],[342.62,.92,7],[342.62,.75,5],[342.62,.52,5],[342.62,.35,5],[342.62,.15,5],[342.62,-.05,5],[342.62,-.28,6],[342.62,-.55,6],[342.62,-.8,6],[342.62,-1.05,7],[342.62,-1.25,7],[343.0,1.05,6],[343.0,1.2,5],[343.0,.9,5],[343.0,-1.0,6],[343.0,-1.2,5],[345.5,1.15,5],[345.52,.7,5],[345.52,.2,5],[345.52,-.4,5],[345.52,-1.0,5],[345.7,1.3,8],[345.7,1.4,6],[345.7,-1.25,7],[345.7,.35,7],[345.7,-.2,9],[346.0,.9,6],[346.0,.45,6],[346.0,.05,6],[346.0,-.6,6],[346.0,-1.05,7],[348.85,1.2,5],[348.9,.95,4],[348.9,.55,4],[348.9,-.05,4],[348.9,-.7,4],[349.45,1.1,4],[349.45,.6,4],[349.45,.05,4],[349.45,-.55,4],[349.95,1.2,5],[349.97,.55,5],[349.95,.0,4],[349.95,-.5,4],[349.95,-.85,4]];

const jet=d3.scaleLinear().domain(jetDomain).range(jetStops).interpolate(d3.interpolateRgb).clamp(true);
const svg=d3.select("#c");
const defs=svg.append("defs");
defs.append("filter").attr("id","soft").attr("x","-2%").attr("y","-2%").attr("width","104%").attr("height","104%").append("feGaussianBlur").attr("stdDeviation",0.9);
defs.append("filter").attr("id","softBand").attr("x","-5%").attr("y","-5%").attr("width","110%").attr("height","110%").append("feGaussianBlur").attr("stdDeviation",6);
defs.append("filter").attr("id","softText").attr("x","-5%").attr("y","-20%").attr("width","110%").attr("height","140%").append("feGaussianBlur").attr("stdDeviation",0.55);

const L={x0:118,x1:835,y0:54,y1:702};
const R={x0:848,x1:1547,y0:55,y1:697};
const raX=d3.scaleLinear().domain([0,6]).range([128,794]);
const decY=d3.scaleLinear().domain([-1.5,1.5]).range([677,92]);
const fX=d3.scaleLinear().domain([340,350]).range([863,1533]);
const dec2Y=d3.scaleLinear().domain([-1.5,1.5]).range([672,78]);
const barY=d3.scaleLinear().domain([0,60]).range([684,62]);

function panel(id,box,x,y,pts,baseLevel,bandTop,bandBottom){
  defs.append("clipPath").attr("id",id).append("rect").attr("x",box.x0).attr("y",box.y0).attr("width",box.x1-box.x0).attr("height",box.y1-box.y0);
  const g=svg.append("g").attr("clip-path",`url(#${id})`);
  g.append("rect").attr("x",box.x0).attr("y",box.y0).attr("width",box.x1-box.x0).attr("height",box.y1-box.y0).attr("fill",jet(0.4));
  g.append("rect").attr("x",box.x0-20).attr("y",bandTop).attr("width",box.x1-box.x0+40).attr("height",bandBottom-bandTop).attr("fill",jet(baseLevel)).attr("filter","url(#softBand)");
  const inner=g.append("g").attr("filter","url(#soft)");
  inner.selectAll("circle").data(pts.slice().sort((a,b)=>a[2]-b[2])).join("circle")
    .attr("cx",d=>x(d[0])).attr("cy",d=>y(d[1])).attr("r",7.5).attr("fill",d=>jet(d[2]));
  svg.append("rect").attr("x",box.x0).attr("y",box.y0).attr("width",box.x1-box.x0).attr("height",box.y1-box.y0)
    .attr("fill","none").attr("stroke","#6a6ab8").attr("stroke-width",1);
}
panel("clipL",L,raX,decY,[...hazeLeft,...haloLeft,...arcLow,...arcLowDense,...strandMid,...strandMidDense,...arcHigh,...arcHighDense,...strandEnd,...strandEndDense],3.4,72,688);
panel("clipR",R,fX,dec2Y,[...faintRight,...streakRight,...col342,...col343,...col343Dense,...col344,...col344Dense,...col345,...col345Dense,...col345b,...col346,...col347,...col347Dense,...col347b,...col347bDense,...col348,...col349],2.4,72,664);

const txt=svg.append("g").attr("filter","url(#softText)");
function axis(gen,tx,ty,size){
  const a=txt.append("g").attr("transform",`translate(${tx},${ty})`).call(gen);
  a.select(".domain").remove();
  a.selectAll("line").remove();
  a.attr("font-family",null);
  a.selectAll("text").attr("font-size",size).attr("letter-spacing",-1).attr("fill","#333");
  return a;
}
const fmt=d=>String(d).replace("-","−");
axis(d3.axisBottom(raX).tickValues(raTicks).tickFormat(fmt).tickSize(0).tickPadding(0),0,707,26).selectAll("text").attr("dy","0.71em");
axis(d3.axisLeft(decY).tickValues(decTicks).tickFormat(fmt).tickSize(0).tickPadding(0),107,0,27).selectAll("text").attr("dy","0.36em");
defs.append("clipPath").attr("id","clipTick").append("rect").attr("x",836).attr("y",40).attr("width",20).attr("height",660);
const rd=txt.append("g").attr("clip-path","url(#clipTick)");
const ay=rd.append("g").attr("transform","translate(848,0)").call(d3.axisLeft(dec2Y).tickValues(decTicks).tickFormat(fmt).tickSize(0).tickPadding(0));
ay.select(".domain").remove();ay.selectAll("line").remove();
ay.attr("font-family",null);
ay.selectAll("text").attr("font-size",27).attr("letter-spacing",-1).attr("fill","#333").attr("dy","0.36em");
axis(d3.axisBottom(fX).tickValues(freqTicks).tickFormat(fmt).tickSize(0).tickPadding(0),0,698,26).selectAll("text").attr("dy","0.71em");

function label(s,x,y,size,len,rot){
  const t=txt.append("text").attr("text-anchor","middle").attr("font-size",size).attr("textLength",len).attr("lengthAdjust","spacingAndGlyphs").text(s);
  t.attr("transform",`translate(${x},${y})`+(rot?` rotate(${rot})`:""));
}
label(titleLeft,482,33,29,629);
label(titleRight,1196,38,27,554);
label(xLabelLeft,480,757,26,335);
label(xLabelRight,1188,748,25,181);
label(yLabelLeft,36,372,27,271,-90);

const levels=d3.range(64);
const barW=svg.append("g");
barW.selectAll("rect").data(levels).join("rect")
  .attr("x",1563).attr("width",55)
  .attr("y",d=>barY((d+1)*60/64)).attr("height",d=>barY(d*60/64)-barY((d+1)*60/64)+0.6)
  .attr("fill",d=>jet((d+.5)*60/64));
barW.append("rect").attr("x",1563).attr("y",62).attr("width",55).attr("height",622).attr("fill","none").attr("stroke","#444").attr("stroke-width",1);
barW.selectAll("line.t").data(barTicks.slice(1,-1)).join("line").attr("class","t").attr("x1",1563).attr("x2",1571).attr("y1",d=>barY(d)).attr("y2",d=>barY(d)).attr("stroke","#222").attr("stroke-width",1.2);
barW.selectAll("line.u").data(barTicks.slice(1,-1)).join("line").attr("class","u").attr("x1",1610).attr("x2",1618).attr("y1",d=>barY(d)).attr("y2",d=>barY(d)).attr("stroke","#222").attr("stroke-width",1.2);
const by=axis(d3.axisRight(barY).tickValues(barTicks).tickFormat(fmt).tickSize(0).tickPadding(0),1624,0,28);
by.selectAll("text").attr("dy","0.36em");
</script></body></html>
